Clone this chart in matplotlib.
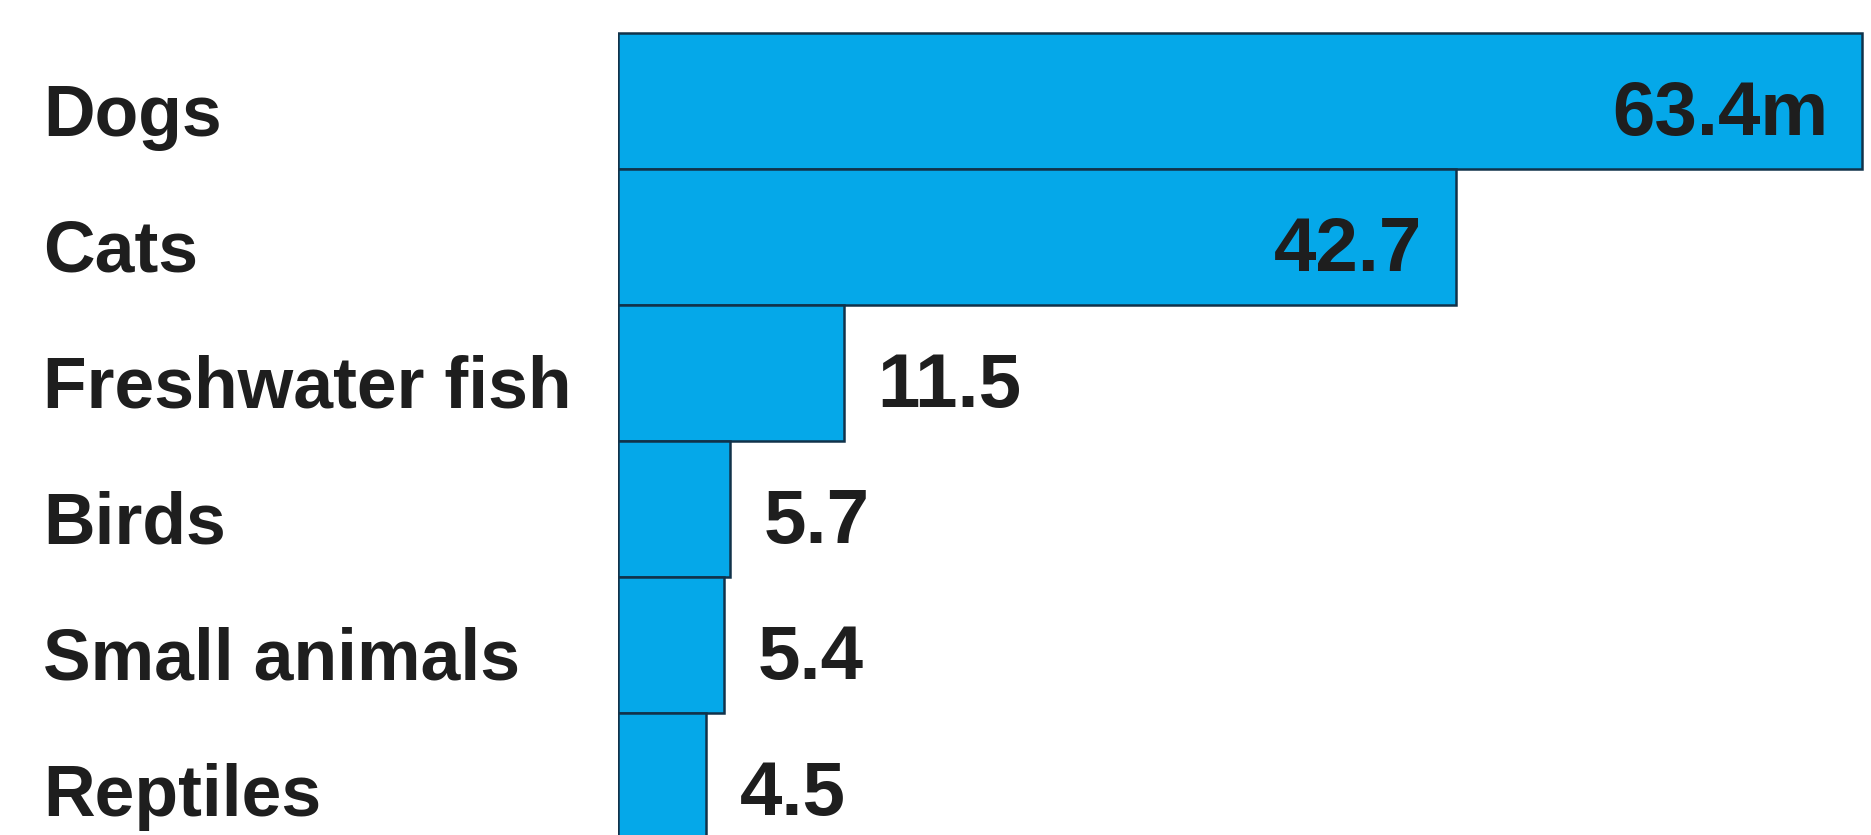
import matplotlib.pyplot as plt
import matplotlib.transforms as mtransforms

animals = ["Dogs", "Cats", "Freshwater fish", "Birds", "Small animals", "Reptiles"]
households = [63.4, 42.7, 11.5, 5.7, 5.4, 4.5]
value_labels = ["63.4m", "42.7", "11.5", "5.7", "5.4", "4.5"]

BAR_COLOR = "#05a8e9"
EDGE_COLOR = "#11324a"
TEXT_COLOR = "#1e1e1e"
FONT = "Liberation Sans"

fig = plt.figure(figsize=(18.71, 8.35), dpi=100)
ax = fig.add_axes([618 / 1871, 0, (1864 - 618) / 1871, 1])

ypos = list(range(len(animals)))
ax.barh(ypos, households, height=1.0, color=BAR_COLOR,
        edgecolor=EDGE_COLOR, linewidth=1.8)

ax.set_xlim(0, 63.5)
ax.set_ylim(5.40, -0.74)
ax.axis("off")

# value labels sit ~34 px from the bar end
inside = mtransforms.offset_copy(ax.transData, fig=fig, x=-0.34, y=0, units="inches")
outside = mtransforms.offset_copy(ax.transData, fig=fig, x=0.34, y=0, units="inches")

for y, val, lab in zip(ypos, households, value_labels):
    big = val > 30
    ax.text(val, y + 0.25, lab, transform=inside if big else outside,
            ha="right" if big else "left", va="baseline",
            fontsize=55, fontweight="bold", family=FONT, color=TEXT_COLOR)

# category names on the left, aligned to the figure edge
trans = mtransforms.blended_transform_factory(fig.transFigure, ax.transData)
for y, name in zip(ypos, animals):
    ax.text(43 / 1871, y + 0.26, name, transform=trans, ha="left", va="baseline",
            fontsize=51.5, fontweight="bold", family=FONT, color=TEXT_COLOR,
            clip_on=False)

fig.savefig("out.png", dpi=100, facecolor="white")
